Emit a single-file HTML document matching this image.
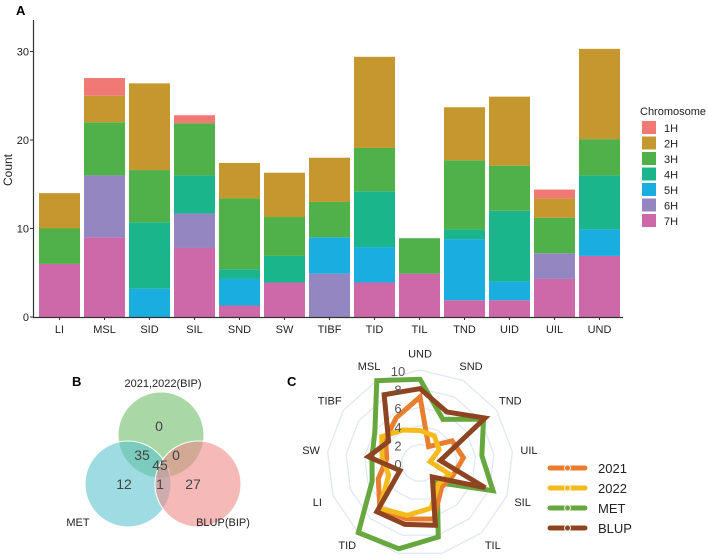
<!DOCTYPE html>
<html><head><meta charset="utf-8">
<style>
html,body{margin:0;padding:0;background:#fff;}
svg{display:block;font-family:"Liberation Sans",Arial,sans-serif;}
</style></head>
<body>
<svg id="fig" width="708" height="559" viewBox="0 0 708 559">
  <g id="panelA"></g>
  <g id="panelB"></g>
  <g id="panelC"></g>
</svg>
<script>
// ---------- Panel A data ----------
const traits = ["LI","MSL","SID","SIL","SND","SW","TIBF","TID","TIL","TND","UID","UIL","UND"];
const chromosomes = ["1H","2H","3H","4H","5H","6H","7H"];
const chromColors = ["#F07A73","#C4982F","#50B04A","#1BB58B","#19AEDF","#9486C1","#CE69A9"];
const v1H = [0,2,0,0.9,0,0,0,0,0,0,0,1,0];
const v2H = [4,3,9.8,0,4,5,5,10.3,0,6,7.8,2.2,10.2];
const v3H = [4,6,5.9,5.9,8,4.4,4,4.9,4,7.8,5.1,4,4.1];
const v4H = [0,0,7.5,4.3,1.1,3,0,6.3,0,1.1,8,0,6.1];
const v5H = [0,0,3.2,0,3,0,4.1,4,0,6.9,2.1,0,3];
const v6H = [0,7,0,3.9,0,0,4.9,0,0,0,0,2.9,0];
const v7H = [6,9,0,7.8,1.3,3.9,0,3.9,4.9,1.9,1.9,4.3,6.9];
const yTicks = [0,10,20,30];

// ---------- Panel C data ----------
const radarAxes = ["UND","SND","TND","UIL","SIL","TIL","UID","SID","TID","LI","SW","TIBF","MSL"];
const s2021 = [7.1,2.0,4.2,4.7,3.8,3.5,6.2,6.2,6.5,4.8,3.6,4.5,5.5];
const s2022 = [3.5,3.3,2.5,1.1,3.4,3.0,5.0,5.8,6.5,3.6,4.1,5.0,4.0];
const sMET  = [9.0,5.3,8.3,6.7,8.4,2.8,8.2,9.5,10,5.5,5.2,5.9,10];
const sBLUP = [8.0,6.2,8.5,2.2,7.5,2.0,6.9,6.8,7.0,2.3,5.6,4.1,8.3];
const radarTicks = [0,2,4,6,8,10];
const seriesNames = ["2021","2022","MET","BLUP"];
const seriesColors = ["#E87E2E","#F5BA1C","#66A83E","#8E4420"];

const NS="http://www.w3.org/2000/svg";
function mk(tag, attrs, parent){const e=document.createElementNS(NS,tag);for(const k in attrs)e.setAttribute(k,attrs[k]);parent.appendChild(e);return e;}

// ---------- Panel A ----------
(function(){
  const g=document.getElementById('panelA');
  const y0=317, pxPerUnit=8.85, x0=39, step=45, bw=41;
  const yS=v=>y0-v*pxPerUnit;
  const stacks=[v7H,v6H,v5H,v4H,v3H,v2H,v1H];
  const stackColors=[chromColors[6],chromColors[5],chromColors[4],chromColors[3],chromColors[2],chromColors[1],chromColors[0]];
  const stackNames=["7H","6H","5H","4H","3H","2H","1H"];
  let t=mk('text',{x:16,y:15,'font-size':13,'font-weight':'bold'},g);t.textContent='A';
  
  
  traits.forEach((tr,i)=>{
    let cum=0;
    const x=x0+i*step;
    stacks.forEach((arr,k)=>{
      const v=arr[i]; if(v<=0)return;
      const r=mk('rect',{x:x,y:yS(cum+v),width:bw,height:v*pxPerUnit,fill:stackColors[k]},g);
      
      
      cum+=v;
    });
    const l=mk('text',{x:x+bw/2,y:333,'font-size':11,'text-anchor':'middle',fill:'#222'},g);l.textContent=tr;
    
    
    const tk=mk('line',{x1:x+bw/2,y1:317,x2:x+bw/2,y2:320,stroke:'#333','stroke-width':1},g);
    
    
  });
  const ax=mk('line',{x1:33.5,y1:20,x2:33.5,y2:317,stroke:'#333','stroke-width':1.2},g);
  
  
  const bx=mk('line',{x1:33,y1:317.5,x2:623,y2:317.5,stroke:'#333','stroke-width':1.2},g);
  
  
  yTicks.forEach(v=>{
    const tt=mk('text',{x:29,y:yS(v)+4,'font-size':11,'text-anchor':'end',fill:'#222'},g);tt.textContent=v;
    
    
    const tl=mk('line',{x1:30,y1:yS(v),x2:33,y2:yS(v),stroke:'#333'},g);
    
    
  });
  const yt=mk('text',{x:12,y:170,'font-size':12,'text-anchor':'middle',transform:'rotate(-90 12 170)',fill:'#222'},g);yt.textContent='Count';
  
  
  const lt=mk('text',{x:640,y:115,'font-size':11,fill:'#222'},g);lt.textContent='Chromosome';
  
  
  chromosomes.forEach((c,i)=>{
    const yy=121+i*15.5;
    const sw=mk('rect',{x:642,y:yy,width:14,height:13,fill:chromColors[i]},g);
    
    
    const tx=mk('text',{x:664,y:yy+11,'font-size':11,fill:'#222'},g);tx.textContent=c;
    
    
  });
})();

// ---------- Panel B ----------
(function(){
  const g=document.getElementById('panelB');
  const circles=[{cx:161,cy:435,c:'#6FBE6A',n:'venn-circle-bip'},{cx:128,cy:484,c:'#5DC5CF',n:'venn-circle-met'},{cx:198,cy:484,c:'#EF8A88',n:'venn-circle-blup'}];
  circles.forEach(o=>{
    const c=mk('circle',{cx:o.cx,cy:o.cy,r:43,fill:o.c,'fill-opacity':0.6,stroke:'#fff','stroke-width':1},g);
    
    
  });
  const labels=[["B",72,386,13,'bold','panel-b-label','#000'],["2021,2022(BIP)",163,387,11,'normal','venn-set-label-bip','#222'],["MET",78,526,11,'normal','venn-set-label-met','#222'],["BLUP(BIP)",223,526,11,'normal','venn-set-label-blup','#222'],
   ["0",159,431,14,'normal','venn-count','#444'],["35",142,460,14,'normal','venn-count','#444'],["0",176,460,14,'normal','venn-count','#444'],["45",160,470,14,'normal','venn-count','#444'],["12",124,489,14,'normal','venn-count','#444'],["1",160,489,14,'normal','venn-count','#444'],["27",193,489,14,'normal','venn-count','#444']];
  labels.forEach(l=>{
    const t=mk('text',{x:l[1],y:l[2],'font-size':l[3],'font-weight':l[4],'text-anchor':l[0]==='B'?'start':'middle',fill:l[6]},g);t.textContent=l[0];
    
    
  });
})();

// ---------- Panel C ----------
(function(){
  const g=document.getElementById('panelC');
  const cx=420, cy=463, R=93, maxV=10, n=radarAxes.length;
  const pt=(i,v)=>{const a=i*2*Math.PI/n;const r=v/maxV*R;return [cx+r*Math.sin(a),cy-r*Math.cos(a)];};
  let t=mk('text',{x:287,y:386,'font-size':13,'font-weight':'bold'},g);t.textContent='C';
  
  
  [2,4,6,8,10].forEach(v=>{
    const p=radarAxes.map((_,i)=>pt(i,v).join(',')).join(' ');
    const gr=mk('polygon',{points:p,fill:'none',stroke:'#E2E8F2','stroke-width':1.3},g);
    
    
  });
  const data=[s2021,s2022,sMET,sBLUP];
  [2,0,1,3].forEach(k=>{
    const p=data[k].map((v,i)=>pt(i,v).join(',')).join(' ');
    const pl=mk('polygon',{points:p,fill:'none',stroke:seriesColors[k],'stroke-width':5,'stroke-linejoin':'miter','stroke-miterlimit':3},g);
    
    
  });
  radarTicks.forEach(v=>{
    const tt=mk('text',{x:398,y:cy-v/maxV*R+6,'font-size':13,'text-anchor':'middle',fill:'#555'},g);tt.textContent=v;
    
    
  });
  radarAxes.forEach((a,i)=>{
    const p=pt(i,11.8);
    const tx=mk('text',{x:p[0],y:p[1]+4,'font-size':11,'text-anchor':'middle',fill:'#222'},g);tx.textContent=a;
    
    
  });
  seriesNames.forEach((s,k)=>{
    const yy=468+k*20;
    const ln=mk('line',{x1:550,y1:yy,x2:585,y2:yy,stroke:seriesColors[k],'stroke-width':5,'stroke-linecap':'round'},g);
    
    
    const dt=mk('circle',{cx:567.5,cy:yy,r:3,fill:seriesColors[k],stroke:'#eee','stroke-width':1},g);
    
    
    const tx=mk('text',{x:598,y:yy+5,'font-size':13,fill:'#222'},g);tx.textContent=s;
    
    
  });
})();
</script>
</body></html>
